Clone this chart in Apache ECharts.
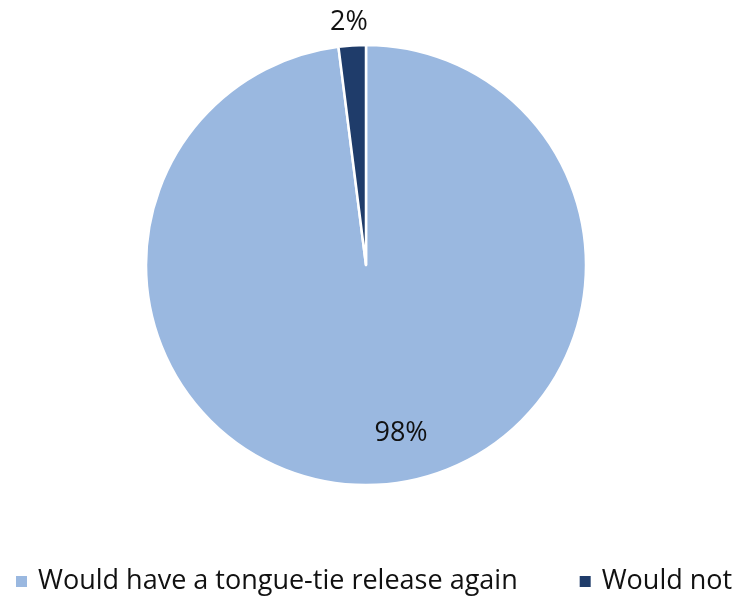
<!DOCTYPE html>
<html><head><meta charset="utf-8">
<script src="https://cdn.jsdelivr.net/npm/echarts@6/dist/echarts.min.js"></script>
<style>html,body{margin:0;padding:0;background:#fff}#c{width:734px;height:596px}</style>
</head><body><div id="c"></div>
<script>
const categories = ["Would have a tongue-tie release again", "Would not"];
const values = [98, 2];
const colors = ["#9ab8e0", "#1f3c6a"];

const chart = echarts.init(document.getElementById('c'));
const FONT = "'Open Sans', 'Liberation Sans', sans-serif";
const labelShift = [[28, 56], [-10, -130]];
chart.setOption({
  animation: false,
  legend: {
    top: 568, left: 14, padding: 0, width: 720,
    itemWidth: 13, itemHeight: 13, itemGap: 60, icon: 'rect',
    textStyle: {fontFamily: FONT, fontSize: 27, color: '#111', padding: [0, 0, 0, 5]},
    data: categories
  },
  series: [{
    type: 'pie',
    center: [366, 265], radius: 220,
    startAngle: 90, clockwise: true,
    itemStyle: {borderColor: '#fff', borderWidth: 2.5},
    label: {position: 'inside', fontFamily: FONT, fontSize: 27, color: '#111', formatter: '{c}%'},
    labelLine: {show: false},
    labelLayout: function (p) {
      const s = labelShift[p.dataIndex];
      return {dx: s[0], dy: s[1]};
    },
    emphasis: {disabled: true},
    data: categories.map((n, i) => ({
      name: n, value: values[i],
      itemStyle: {color: colors[i]}
    }))
  }]
});
</script></body></html>
